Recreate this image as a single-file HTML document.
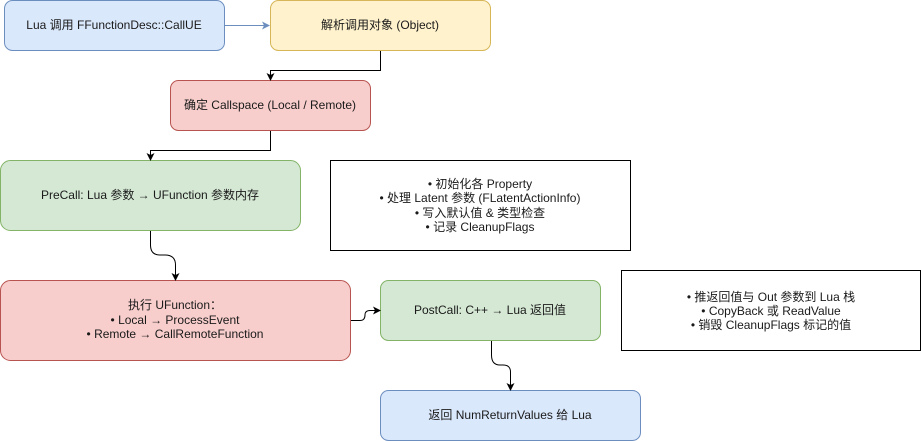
<!DOCTYPE html>
<html><head><meta charset="utf-8"><style>
html,body{margin:0;padding:0;background:#fff;}
svg{display:block;}
text{font-family:"Liberation Sans","Noto Sans CJK SC",sans-serif;font-size:12px;fill:#1a1a1a;text-anchor:middle;}
</style></head><body>
<svg width="921" height="441" viewBox="0 0 921 441" xmlns="http://www.w3.org/2000/svg">
<defs>
<marker id="a" markerWidth="8" markerHeight="8" refX="7" refY="4" orient="auto" markerUnits="userSpaceOnUse"><path d="M0,0 L8,4 L0,8 L2,4 Z" fill="#000"/></marker>
<marker id="b" markerWidth="8" markerHeight="8" refX="7" refY="4" orient="auto" markerUnits="userSpaceOnUse"><path d="M0,0 L8,4 L0,8 L2,4 Z" fill="#6c8ebf"/></marker>
</defs>
<rect x="4.5" y="0.5" width="220" height="50" rx="8" fill="#dae8fc" stroke="#6c8ebf"/>
<text x="114" y="29">Lua 调用 FFunctionDesc::CallUE</text>
<rect x="270.5" y="0.5" width="220" height="50" rx="8" fill="#fff2cc" stroke="#d6b656"/>
<text x="380" y="29">解析调用对象 (Object)</text>
<rect x="170.5" y="80.5" width="200" height="50" rx="8" fill="#f8cecc" stroke="#b85450"/>
<text x="270" y="109">确定 Callspace (Local / Remote)</text>
<rect x="0.5" y="160.5" width="300" height="70" rx="10" fill="#d5e8d4" stroke="#82b366"/>
<text x="150" y="199">PreCall: Lua 参数 → UFunction 参数内存</text>
<rect x="330.5" y="160.5" width="300" height="90" fill="#fff" stroke="#000"/>
<text x="480" y="188">• 初始化各 Property</text>
<text x="480" y="202">• 处理 Latent 参数 (FLatentActionInfo)</text>
<text x="480" y="217">• 写入默认值 &amp; 类型检查</text>
<text x="480" y="231">• 记录 CleanupFlags</text>
<rect x="0.5" y="280.5" width="350" height="80" rx="10" fill="#f8cecc" stroke="#b85450"/>
<text x="175" y="309">执行 UFunction：</text>
<text x="175" y="324">• Local → ProcessEvent</text>
<text x="175" y="338">• Remote → CallRemoteFunction</text>
<rect x="380.5" y="280.5" width="220" height="60" rx="8" fill="#d5e8d4" stroke="#82b366"/>
<text x="490" y="314">PostCall: C++ → Lua 返回值</text>
<rect x="621.5" y="270.5" width="299" height="80" fill="#fff" stroke="#000"/>
<text x="771" y="301">• 推返回值与 Out 参数到 Lua 栈</text>
<text x="771" y="315">• CopyBack 或 ReadValue</text>
<text x="771" y="329">• 销毁 CleanupFlags 标记的值</text>
<rect x="380.5" y="390.5" width="260" height="50" rx="8" fill="#dae8fc" stroke="#6c8ebf"/>
<text x="510" y="419">返回 NumReturnValues 给 Lua</text>
<g fill="none" stroke="#000" stroke-width="1">
<path d="M224.5,25.5 H269" stroke="#6c8ebf" marker-end="url(#b)"/>
<path d="M380.5,51 V70.5 H270.5 V80" marker-end="url(#a)"/>
<path d="M270.5,131 V150.5 H150.5 V160" marker-end="url(#a)"/>
<path d="M150.5,231 V245 Q150.5,255 160,255 H165 Q175.5,255 175.5,265 V280" marker-end="url(#a)"/>
<path d="M351,320.5 H360 Q365,320.5 365,315 Q365,310.5 370,310.5 H380" marker-end="url(#a)"/>
<path d="M491.5,341 V355 Q491.5,365 500,365 H503 Q510.5,365 510.5,372 V390" marker-end="url(#a)"/>
</g>
</svg>
</body></html>
